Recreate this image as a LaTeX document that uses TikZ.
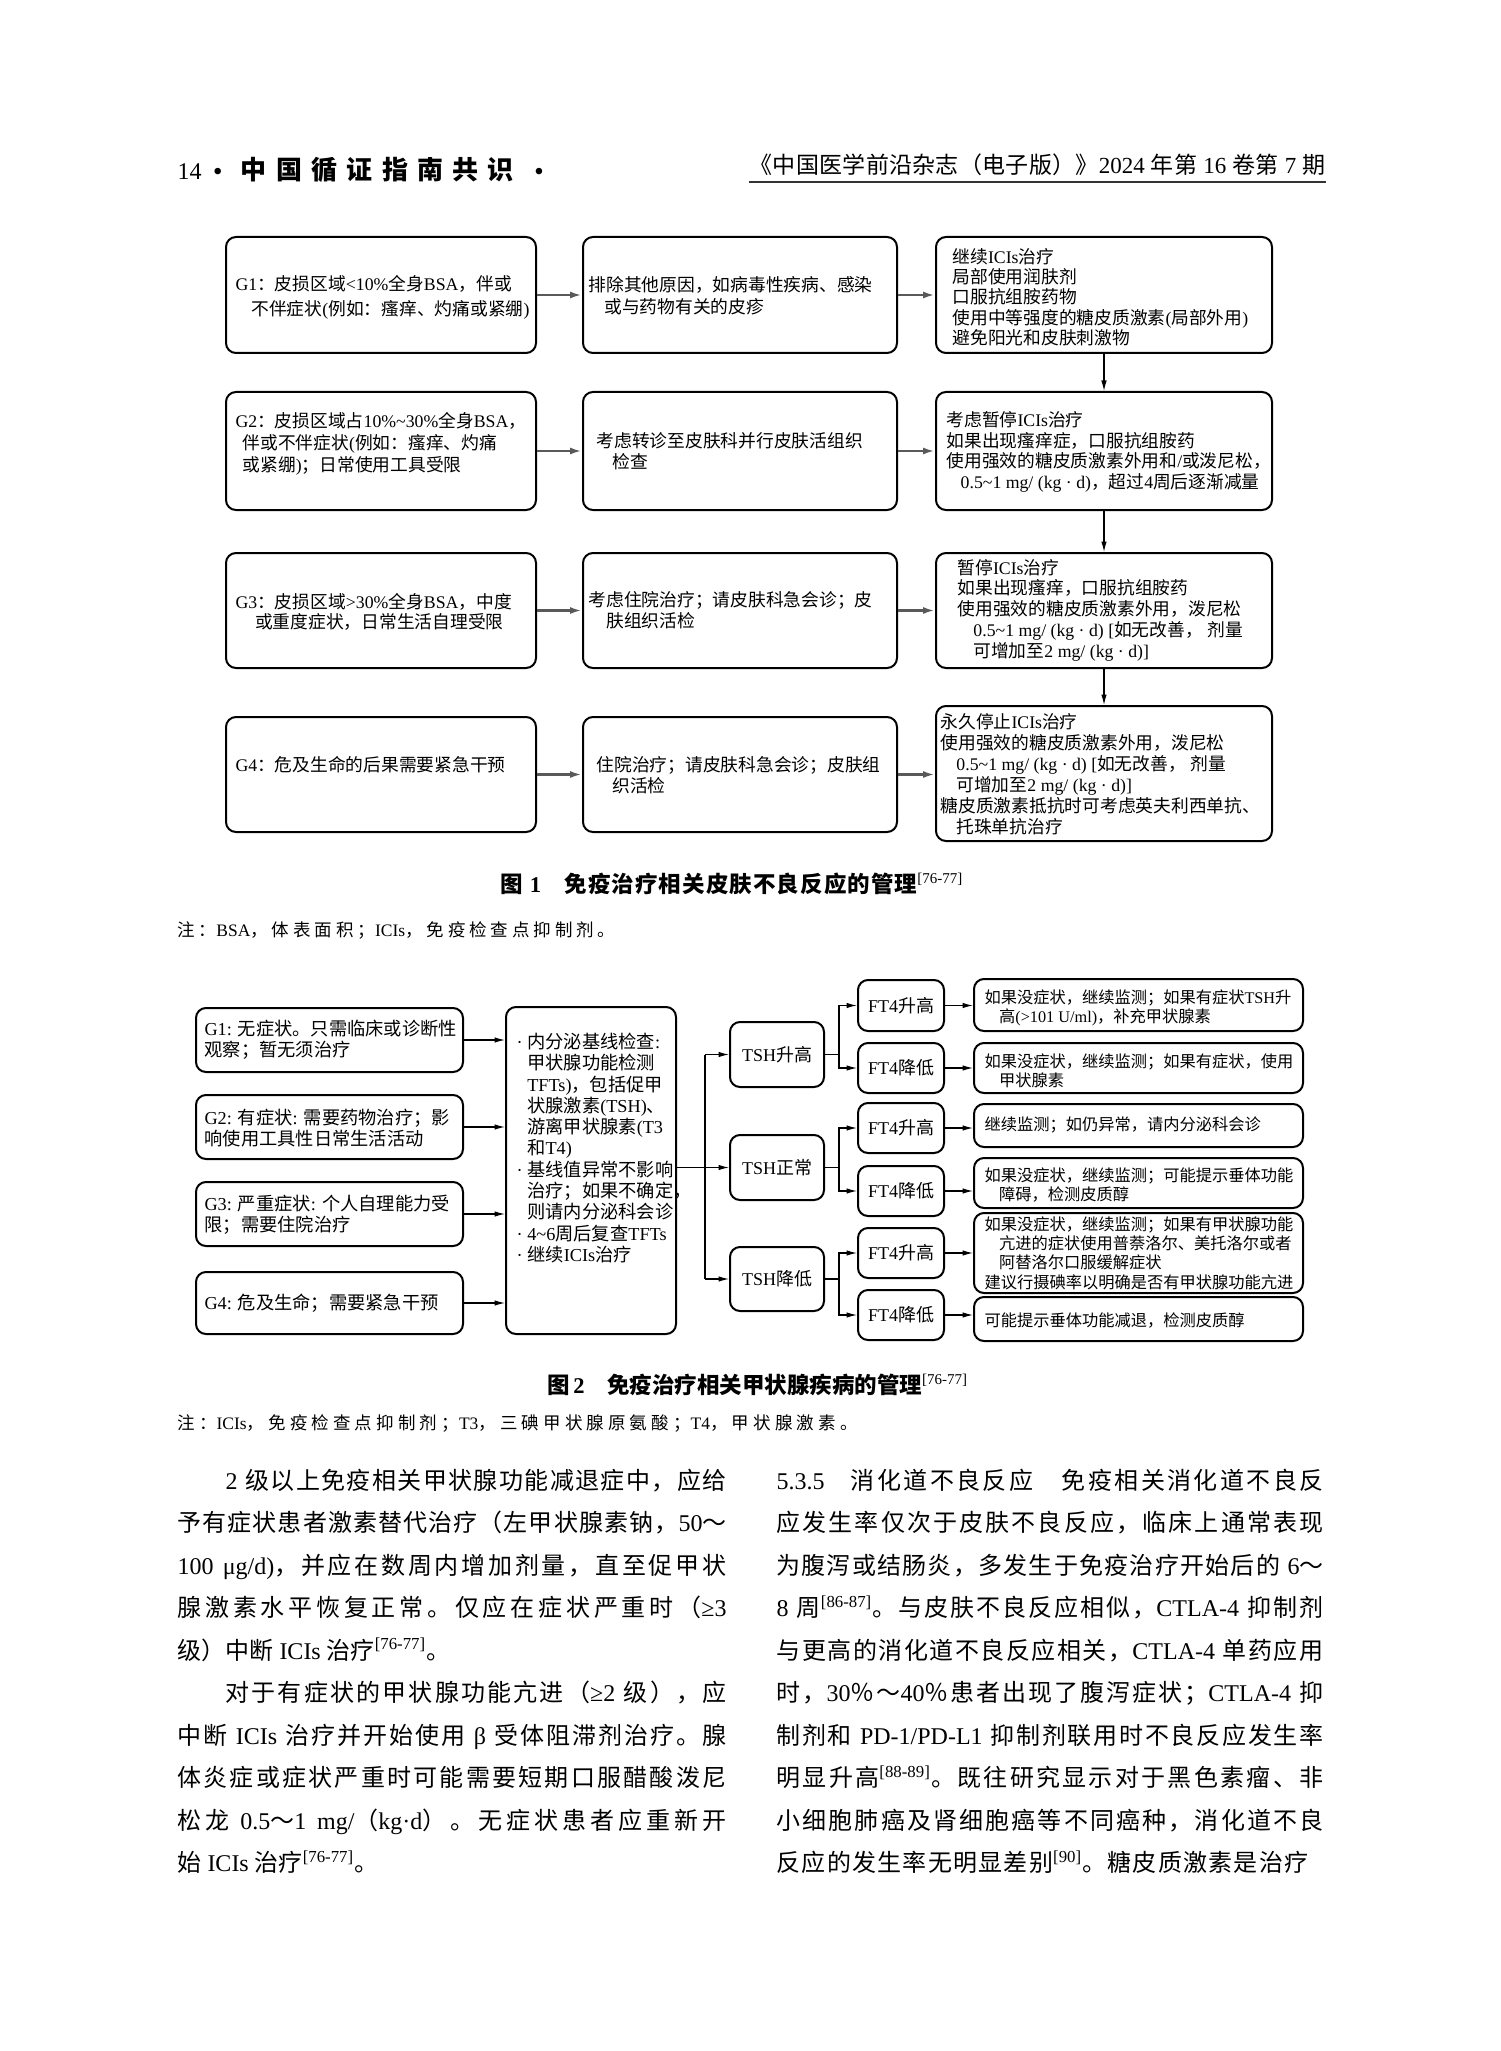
\documentclass[tikz,border=0pt]{standalone}
\usepackage{fontspec}
\setmainfont{Liberation Serif}
\newfontfamily\cjk{Noto Sans CJK SC}
\usetikzlibrary{fit,arrows.meta}

% CJK runs are set in \cjk, with a little stretch between the characters
\newcount\cc
\def\setclass#1#2#3{\cc=#1 \loop\XeTeXcharclass\cc=#3 \ifnum\cc<#2 \advance\cc by 1 \repeat}
\setclass{"0021}{"2FFF}{0}
\setclass{"3000}{"303F}{7}
\setclass{"4E00}{"9FFF}{7}
\setclass{"FF00}{"FFEF}{7}
\XeTeXinterchartoks 0 7 = {\begingroup\cjk}
\XeTeXinterchartoks 4095 7 = {\begingroup\cjk}
\XeTeXinterchartoks 7 0 = {\endgroup}
\XeTeXinterchartoks 7 4095 = {\endgroup}
\XeTeXinterchartoks 7 7 = {\hskip 0pt plus 1pt\relax}
\XeTeXinterchartokenstate=1

\newcommand{\itm}{\makebox[4.3pt][l]{·}}
\newcommand{\ind}{\hspace*{4.3pt}}

\begin{document}
\begin{tikzpicture}[x=0.4pt, y=-0.4pt,
    box/.style={draw, rounded corners=4pt, line width=0.8pt, inner sep=0pt},
    txt/.style={anchor=west, align=left, inner sep=0pt, font=\fontsize{7.1}{8.3}\selectfont},
    rtxt/.style={anchor=west, align=left, inner sep=0pt, font=\fontsize{6.5}{7.7}\selectfont},
    lbl/.style={inner sep=0pt, font=\fontsize{7.2}{8.5}\selectfont},
    arr/.style={line width=0.45pt, -{Latex[length=4.2pt, width=2.2pt]}},
    harr/.style={draw=black!65, line width=1pt, -{Latex[length=4.8pt, width=2.8pt]}},
    body/.style={anchor=base west, inner sep=0pt, font=\fontsize{9.6}{12}\selectfont}]
    \fill[white] (0,0) rectangle (1500,2051);
    \useasboundingbox (0,0) rectangle (1500,2051);

    % page head
    \node[anchor=west, inner sep=0pt, font=\fontsize{9.6}{11}\selectfont] (hl) at (177,170)
        {14\hspace{4.8pt}{\bfseries •}\hspace{7.6pt}\makebox[109.2pt][s]{\fontsize{10.4}{11}\selectfont\bfseries 中国循证指南共识}\hspace{8.4pt}{\bfseries •}};
    \node[anchor=west, inner sep=0pt, font=\fontsize{9.2}{11}\selectfont] (hr) at (749,165)
        {\makebox[230.4pt][s]{《中国医学前沿杂志（电子版）》2024 年第 16 卷第 7 期}};
    \draw[line width=0.8pt, black!80] (749,182) -- (1326,182);

    % figure 1
    \node[box, fit={(226,237) (536,353)}] (a1) {};
    \node[box, fit={(583,237) (897,353)}] (b1) {};
    \node[box, fit={(936,237) (1272,353)}] (c1) {};
    \node[box, fit={(226,392) (536,510)}] (a2) {};
    \node[box, fit={(583,392) (897,510)}] (b2) {};
    \node[box, fit={(936,392) (1272,510)}] (c2) {};
    \node[box, fit={(226,553) (536,668)}] (a3) {};
    \node[box, fit={(583,553) (897,668)}] (b3) {};
    \node[box, fit={(936,553) (1272,668)}] (c3) {};
    \node[box, fit={(226,717) (536,832)}] (a4) {};
    \node[box, fit={(583,717) (897,832)}] (b4) {};
    \node[box, fit={(936,706) (1272,841)}] (c4) {};

    \node[txt, font=\fontsize{7.1}{10}\selectfont] (ta1) at (235,297)
        {G1：皮损区域<10\%全身BSA，伴或\\\hspace*{0.9em}不伴症状(例如：瘙痒、灼痛或紧绷)};
    \node[txt, font=\fontsize{7.1}{8.8}\selectfont] (tb1) at (588,296)
        {排除其他原因，如病毒性疾病、感染\\\hspace*{0.9em}或与药物有关的皮疹};
    \node[txt, font=\fontsize{7.1}{8.1}\selectfont] (tc1) at (952,297)
        {继续ICIs治疗\\局部使用润肤剂\\口服抗组胺药物\\使用中等强度的糖皮质激素(局部外用)\\避免阳光和皮肤刺激物};
    \node[txt, font=\fontsize{7.1}{8.8}\selectfont] (ta2) at (235,444)
        {G2：皮损区域占10\%\textasciitilde30\%全身BSA，\\\hspace*{0.4em}伴或不伴症状(例如：瘙痒、灼痛\\\hspace*{0.4em}或紧绷)；日常使用工具受限};
    \node[txt] (tb2) at (596,451)
        {考虑转诊至皮肤科并行皮肤活组织\\\hspace*{0.9em}检查};
    \node[txt] (tc2) at (946,452)
        {考虑暂停ICIs治疗\\如果出现瘙痒症，口服抗组胺药\\使用强效的糖皮质激素外用和/或泼尼松，\\\hspace*{0.8em}0.5\textasciitilde1 mg/ (kg · d)，超过4周后逐渐减量};
    \node[txt] (ta3) at (235,612)
        {G3：皮损区域>30\%全身BSA，中度\\\hspace*{1.1em}或重度症状，日常生活自理受限};
    \node[txt] (tb3) at (588,610)
        {考虑住院治疗；请皮肤科急会诊；皮\\\hspace*{1em}肤组织活检};
    \node[txt] (tc3) at (957,610)
        {暂停ICIs治疗\\如果出现瘙痒，口服抗组胺药\\使用强效的糖皮质激素外用，泼尼松\\\hspace*{0.9em}0.5\textasciitilde1 mg/ (kg · d) [如无改善， 剂量\\\hspace*{0.9em}可增加至2 mg/ (kg · d)]};
    \node[txt] (ta4) at (235,765)
        {G4：危及生命的后果需要紧急干预};
    \node[txt] (tb4) at (596,775)
        {住院治疗；请皮肤科急会诊；皮肤组\\\hspace*{0.9em}织活检};
    \node[txt, font=\fontsize{7.1}{8.4}\selectfont] (tc4) at (940,774)
        {永久停止ICIs治疗\\使用强效的糖皮质激素外用，泼尼松\\\hspace*{0.9em}0.5\textasciitilde1 mg/ (kg · d) [如无改善， 剂量\\\hspace*{0.9em}可增加至2 mg/ (kg · d)]\\糖皮质激素抵抗时可考虑英夫利西单抗、\\\hspace*{0.9em}托珠单抗治疗};

    \draw[harr] (a1) -- (b1);
    \draw[harr] (b1) -- (c1);
    \draw[harr] (a2) -- (b2);
    \draw[harr] (b2) -- (c2);
    \draw[harr] (a3) -- (b3);
    \draw[harr] (b3) -- (c3);
    \draw[harr] (a4) -- (b4);
    \draw[harr] (b4) -- (b4 -| c4.west);
    \draw[arr] (c1) -- (c2);
    \draw[arr] (c2) -- (c3);
    \draw[arr] (c3) -- (c4);

    \node[inner sep=0pt, font=\fontsize{9}{11}\selectfont\bfseries] (cap1) at (732,884)
        {\makebox[185.2pt][s]{图 1　免疫治疗相关皮肤不良反应的管理\textsuperscript{\mdseries[76-77]}}};
    \node[anchor=west, inner sep=0pt, font=\fontsize{7}{9}\selectfont] (note1) at (177,930)
        {\makebox[175.2pt][s]{注：BSA，体表面积；ICIs，免疫检查点抑制剂。}};

    % figure 2
    \node[box, fit={(196,1008) (463,1072)}] (g1) {};
    \node[box, fit={(196,1095) (463,1159)}] (g2) {};
    \node[box, fit={(196,1182) (463,1246)}] (g3) {};
    \node[box, fit={(196,1272) (463,1334)}] (g4) {};
    \node[box, fit={(506,1007) (676,1334)}] (mid) {};
    \node[box, fit={(730,1022) (824,1087)}] (tshh) {};
    \node[box, fit={(730,1135) (824,1200)}] (tshn) {};
    \node[box, fit={(730,1247) (824,1311)}] (tshl) {};
    \node[box, fit={(858,980) (944,1031)}] (ft1) {};
    \node[box, fit={(858,1043) (944,1093)}] (ft2) {};
    \node[box, fit={(858,1103) (944,1153)}] (ft3) {};
    \node[box, fit={(858,1166) (944,1216)}] (ft4) {};
    \node[box, fit={(858,1228) (944,1278)}] (ft5) {};
    \node[box, fit={(858,1290) (944,1340)}] (ft6) {};
    \node[box, fit={(974,979) (1303,1031)}] (rs1) {};
    \node[box, fit={(974,1043) (1303,1093)}] (rs2) {};
    \node[box, fit={(974,1104) (1303,1147)}] (rs3) {};
    \node[box, fit={(974,1158) (1303,1208)}] (rs4) {};
    \node[box, fit={(974,1213) (1303,1293)}] (rs5) {};
    \node[box, fit={(974,1297) (1303,1341)}] (rs6) {};

    \node[txt, font=\fontsize{7.3}{8.4}\selectfont] (tg1) at (204,1040)
        {G1: 无症状。只需临床或诊断性\\观察；暂无须治疗};
    \node[txt, font=\fontsize{7.3}{8.4}\selectfont] (tg2) at (204,1128)
        {G2: 有症状: 需要药物治疗；影\\响使用工具性日常生活活动};
    \node[txt, font=\fontsize{7.3}{8.4}\selectfont] (tg3) at (204,1215)
        {G3: 严重症状: 个人自理能力受\\限；需要住院治疗};
    \node[txt, font=\fontsize{7.3}{8.4}\selectfont] (tg4) at (204,1303)
        {G4: 危及生命；需要紧急干预};
    \node[txt, font=\fontsize{7.3}{8.52}\selectfont] (tmid) at (516,1148)
        {\itm 内分泌基线检查:\\\ind 甲状腺功能检测\\\ind TFTs)，包括促甲\\\ind 状腺激素(TSH)、\\\ind 游离甲状腺素(T3\\\ind 和T4)\\\itm 基线值异常不影响\\\ind 治疗；如果不确定，\\\ind 则请内分泌科会诊\\\itm 4\textasciitilde6周后复查TFTs\\\itm 继续ICIs治疗};
    \node[lbl] (ttshh) at (tshh) {TSH升高};
    \node[lbl] (ttshn) at (tshn) {TSH正常};
    \node[lbl] (ttshl) at (tshl) {TSH降低};
    \node[lbl] (tft1) at (ft1) {FT4升高};
    \node[lbl] (tft2) at (ft2) {FT4降低};
    \node[lbl] (tft3) at (ft3) {FT4升高};
    \node[lbl] (tft4) at (ft4) {FT4降低};
    \node[lbl] (tft5) at (ft5) {FT4升高};
    \node[lbl] (tft6) at (ft6) {FT4降低};
    \node[rtxt] (trs1) at (984,1008)
        {如果没症状，继续监测；如果有症状TSH升\\\hspace*{0.9em}高(>101 U/ml)，补充甲状腺素};
    \node[rtxt] (trs2) at (984,1071)
        {如果没症状，继续监测；如果有症状，使用\\\hspace*{0.9em}甲状腺素};
    \node[rtxt] (trs3) at (984,1125)
        {继续监测；如仍异常，请内分泌科会诊};
    \node[rtxt] (trs4) at (984,1185)
        {如果没症状，继续监测；可能提示垂体功能\\\hspace*{0.9em}障碍，检测皮质醇};
    \node[rtxt] (trs5) at (984,1253)
        {如果没症状，继续监测；如果有甲状腺功能\\\hspace*{0.9em}亢进的症状使用普萘洛尔、美托洛尔或者\\\hspace*{0.9em}阿替洛尔口服缓解症状\\建议行摄碘率以明确是否有甲状腺功能亢进};
    \node[rtxt] (trs6) at (984,1320)
        {可能提示垂体功能减退，检测皮质醇};

    \draw[arr] (g1) -- (g1 -| mid.west);
    \draw[arr] (g2) -- (g2 -| mid.west);
    \draw[arr] (g3) -- (g3 -| mid.west);
    \draw[arr] (g4) -- (g4 -| mid.west);
    \coordinate (tk) at (705,1167);
    \draw[arr] (tshn -| mid.east) -- (tshn);
    \draw[line width=0.45pt] (tk |- tshh) -- (tk |- tshl);
    \draw[arr] (tk |- tshh) -- (tshh);
    \draw[arr] (tk |- tshl) -- (tshl);
    \draw[arr] (tshh.east) -- ++(14,0) |- (ft1);
    \draw[arr] (tshh.east) -- ++(14,0) |- (ft2);
    \draw[arr] (tshn.east) -- ++(14,0) |- (ft3);
    \draw[arr] (tshn.east) -- ++(14,0) |- (ft4);
    \draw[arr] (tshl.east) -- ++(14,0) |- (ft5);
    \draw[arr] (tshl.east) -- ++(14,0) |- (ft6);
    \draw[arr] (ft1) -- (ft1 -| rs1.west);
    \draw[arr] (ft2) -- (ft2 -| rs2.west);
    \draw[arr] (ft3) -- (ft3 -| rs3.west);
    \draw[arr] (ft4) -- (ft4 -| rs4.west);
    \draw[arr] (ft5) -- (ft5 -| rs5.west);
    \draw[arr] (ft6) -- (ft6 -| rs6.west);

    \node[inner sep=0pt, font=\fontsize{9}{11}\selectfont\bfseries] (cap2) at (749,1385)
        {\makebox[161.6pt][s]{图 2　免疫治疗相关甲状腺疾病的管理\textsuperscript{\mdseries[76-77]}}};
    \node[anchor=west, inner sep=0pt, font=\fontsize{7}{9}\selectfont] (note2) at (177,1423)
        {\makebox[272pt][s]{注：ICIs，免疫检查点抑制剂；T3，三碘甲状腺原氨酸；T4，甲状腺激素。}};

    % running text, left column
    \node[body] (la1) at (225,1489) {\makebox[200.4pt][s]{2 级以上免疫相关甲状腺功能减退症中，应给}};
    \node[body] (la2) at (177,1531.5) {\makebox[219.6pt][s]{予有症状患者激素替代治疗（左甲状腺素钠，50～}};
    \node[body] (la3) at (177,1574) {\makebox[219.6pt][s]{100 μg/d)，并应在数周内增加剂量，直至促甲状}};
    \node[body] (la4) at (177,1616.5) {\makebox[219.6pt][s]{腺激素水平恢复正常。仅应在症状严重时（≥3}};
    \node[body] (la5) at (177,1659) {级）中断 ICIs 治疗\textsuperscript{[76-77]}。};
    \node[body] (la6) at (225,1701.5) {\makebox[200.4pt][s]{对于有症状的甲状腺功能亢进（≥2 级），应}};
    \node[body] (la7) at (177,1744) {\makebox[219.6pt][s]{中断 ICIs 治疗并开始使用 β 受体阻滞剂治疗。腺}};
    \node[body] (la8) at (177,1786.5) {\makebox[219.6pt][s]{体炎症或症状严重时可能需要短期口服醋酸泼尼}};
    \node[body] (la9) at (177,1829) {\makebox[219.6pt][s]{松龙 0.5～1 mg/（kg·d）。无症状患者应重新开}};
    \node[body] (la10) at (177,1871.5) {始 ICIs 治疗\textsuperscript{[76-77]}。};

    % running text, right column
    \node[body] (lb1) at (776,1489) {\makebox[218.8pt][s]{5.3.5　消化道不良反应　免疫相关消化道不良反}};
    \node[body] (lb2) at (776,1531.5) {\makebox[218.8pt][s]{应发生率仅次于皮肤不良反应，临床上通常表现}};
    \node[body] (lb3) at (776,1574) {\makebox[218.8pt][s]{为腹泻或结肠炎，多发生于免疫治疗开始后的 6～}};
    \node[body] (lb4) at (776,1616.5) {\makebox[218.8pt][s]{8 周\textsuperscript{[86-87]}。与皮肤不良反应相似，CTLA-4 抑制剂}};
    \node[body] (lb5) at (776,1659) {\makebox[218.8pt][s]{与更高的消化道不良反应相关，CTLA-4 单药应用}};
    \node[body] (lb6) at (776,1701.5) {\makebox[218.8pt][s]{时，30％～40％患者出现了腹泻症状；CTLA-4 抑}};
    \node[body] (lb7) at (776,1744) {\makebox[218.8pt][s]{制剂和 PD-1/PD-L1 抑制剂联用时不良反应发生率}};
    \node[body] (lb8) at (776,1786.5) {\makebox[218.8pt][s]{明显升高\textsuperscript{[88-89]}。既往研究显示对于黑色素瘤、非}};
    \node[body] (lb9) at (776,1829) {\makebox[218.8pt][s]{小细胞肺癌及肾细胞癌等不同癌种，消化道不良}};
    \node[body] (lb10) at (776,1871.5) {\makebox[212.8pt][s]{反应的发生率无明显差别\textsuperscript{[90]}。糖皮质激素是治疗}};
\end{tikzpicture}
\end{document}
